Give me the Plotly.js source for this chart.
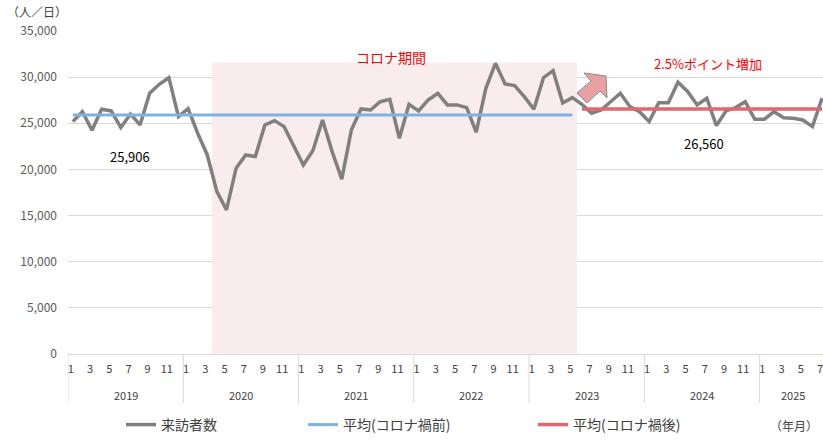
<!DOCTYPE html>
<html>
<head>
<meta charset="utf-8">
<script src="https://cdn.plot.ly/plotly-3.0.1.min.js"></script>
<style>
html,body{margin:0;padding:0;background:#fff;}
#chart{width:823px;height:441px;}
</style>
</head>
<body>
<div id="chart"></div>
<script>
// ---- data ----
const years = ["2019","2020","2021","2022","2023","2024","2025"];
const monthLabels = ["1","3","5","7","9","11"];
const visitors2019 = [25180, 26260, 24250, 26520, 26340, 24530, 26010, 24820, 28250, 29220, 29940, 25720];
const visitors2020 = [26580, 23920, 21570, 17600, 15620, 20130, 21570, 21400, 24820, 25290, 24640, 22660];
const visitors2021 = [20490, 22050, 25360, 21930, 18950, 24280, 26550, 26440, 27340, 27600, 23380, 27060];
const visitors2022 = [26340, 27530, 28250, 26990, 26990, 26700, 24030, 28790, 31500, 29260, 29080, 27890];
const visitors2023 = [26520, 29940, 30700, 27200, 27780, 27060, 26090, 26440, 27340, 28250, 26800, 26260];
const visitors2024 = [25180, 27230, 27230, 29440, 28450, 26990, 27710, 24750, 26340, 26700, 27340, 25440];
const visitors2025 = [25440, 26260, 25610, 25550, 25360, 24640, 27710];
const preCovidAvg = 25906;    // Jan 2019 - May 2023
const postCovidAvg = 26560;   // Jun 2023 - Jul 2025
const preAvgLastIndex = 52;   // May 2023
const covidStartIndex = 15;   // Apr 2020
const covidEndIndex = 52;     // May 2023
const covidTopValue = 31600;

// ---- build ----
const visitors = [].concat(visitors2019, visitors2020, visitors2021, visitors2022, visitors2023, visitors2024, visitors2025);
const idx = visitors.map((_, i) => i);
const preAvg = idx.map(i => i <= preAvgLastIndex ? preCovidAvg : null);
const postAvg = idx.map(i => i > preAvgLastIndex ? postCovidAvg : null);

const tickvals = [], ticktext = [];
years.forEach((y, k) => {
  monthLabels.forEach(m => {
    const i = k * 12 + (parseInt(m) - 1);
    if (i < visitors.length) { tickvals.push(i); ticktext.push(m); }
  });
});

const FONT = '"Noto Sans CJK JP", "Noto Sans", sans-serif';
const L = 68, W = 755, T = 31, H = 323;
const px = x => (x - L) / W;
const py = y => (T + H - y) / H;

const traces = [
  {x: idx, y: visitors, name: '来訪者数', type: 'scatter', mode: 'lines',
   line: {color: '#808080', width: 3.5}, legend: 'legend'},
  {x: idx, y: preAvg, name: '平均(コロナ禍前)', type: 'scatter', mode: 'lines',
   line: {color: '#7EB3E1', width: 3}, legend: 'legend2'},
  {x: idx, y: postAvg, name: '平均(コロナ禍後)', type: 'scatter', mode: 'lines',
   line: {color: '#E0676A', width: 3.5}, legend: 'legend3'}
];

const shapes = [];
shapes.push({type: 'rect', xref: 'x', yref: 'y', x0: covidStartIndex - 0.5, x1: covidEndIndex + 0.5,
  y0: 0, y1: covidTopValue, fillcolor: '#F9ECEC', line: {width: 0}, layer: 'between'});
for (let k = 0; k < years.length; k++) {
  const xv = k * 12 - 0.5;
  shapes.push({type: 'line', xref: 'x', yref: 'paper', x0: xv, x1: xv, y0: 0, y1: py(403),
    line: {color: '#D9D9D9', width: 1}, layer: 'above'});
}
// block arrow (decoration)
const arrowPts = [[606,76],[584,73],[591,81],[577,93],[587,103],[600,91],[607,98]];
let path = arrowPts.map((p, j) => (j ? 'L' : 'M') + px(p[0]).toFixed(5) + ',' + py(p[1]).toFixed(5)).join(' ') + ' Z';
shapes.push({type: 'path', xref: 'paper', yref: 'paper', path: path,
  fillcolor: '#E8A0A0', line: {color: '#8C8C8C', width: 1}, layer: 'above'});

const annotations = [];
years.forEach((y, k) => {
  const start = k * 12, end = Math.min(k * 12 + 11, visitors.length - 1);
  annotations.push({xref: 'x', yref: 'paper', x: (start + end) / 2, y: py(395), text: y,
    showarrow: false, font: {family: FONT, size: 11, color: '#404040'}, xanchor: 'center', yanchor: 'middle'});
});
function note(text, x, y, size, color) {
  annotations.push({xref: 'paper', yref: 'paper', x: px(x), y: py(y), text: text, showarrow: false,
    font: {family: FONT, size: size, color: color}, xanchor: 'center', yanchor: 'middle'});
}
note('コロナ期間', 391, 57, 14, '#FF0000');
note('2.5%ポイント増加', 708, 64, 13, '#FF0000');
note('25,906', 130, 156, 13, '#000000');
note('26,560', 704, 143, 13, '#000000');
note('（人／日）', 37, 12, 12, '#404040');
note('（年月）', 794, 425, 12, '#404040');

const legendBase = {orientation: 'h', xanchor: 'left', yanchor: 'middle', y: py(425),
  font: {family: FONT, size: 14, color: '#404040'}, bgcolor: 'rgba(0,0,0,0)', borderwidth: 0};

const layout = {
  width: 823, height: 441,
  margin: {l: L, r: 823 - L - W, t: T, b: 441 - T - H},
  paper_bgcolor: '#fff', plot_bgcolor: '#fff',
  showlegend: true,
  font: {family: FONT, size: 11, color: '#595959'},
  xaxis: {range: [-0.5, 78.1], tickvals: tickvals, ticktext: ticktext, showgrid: false, zeroline: false,
    showline: true, linecolor: '#D9D9D9', linewidth: 1, ticks: '', ticklabelstandoff: 5, ticklabelshift: -2,
    ticklabeloverflow: 'allow', tickfont: {family: FONT, size: 11, color: '#404040'}, tickangle: 0},
  yaxis: {range: [0, 35000], dtick: 5000, tick0: 0, tickformat: ',d', showgrid: true, gridcolor: '#D9D9D9',
    gridwidth: 1, zeroline: false, showline: false, ticks: '', ticklabelstandoff: 10,
    tickfont: {family: FONT, size: 12, color: '#595959'}},
  legend: Object.assign({}, legendBase, {x: px(121)}),
  legend2: Object.assign({}, legendBase, {x: px(303)}),
  legend3: Object.assign({}, legendBase, {x: px(533)}),
  shapes: shapes,
  annotations: annotations
};

Plotly.newPlot('chart', traces, layout, {displayModeBar: false, staticPlot: true});
</script>
</body>
</html>
